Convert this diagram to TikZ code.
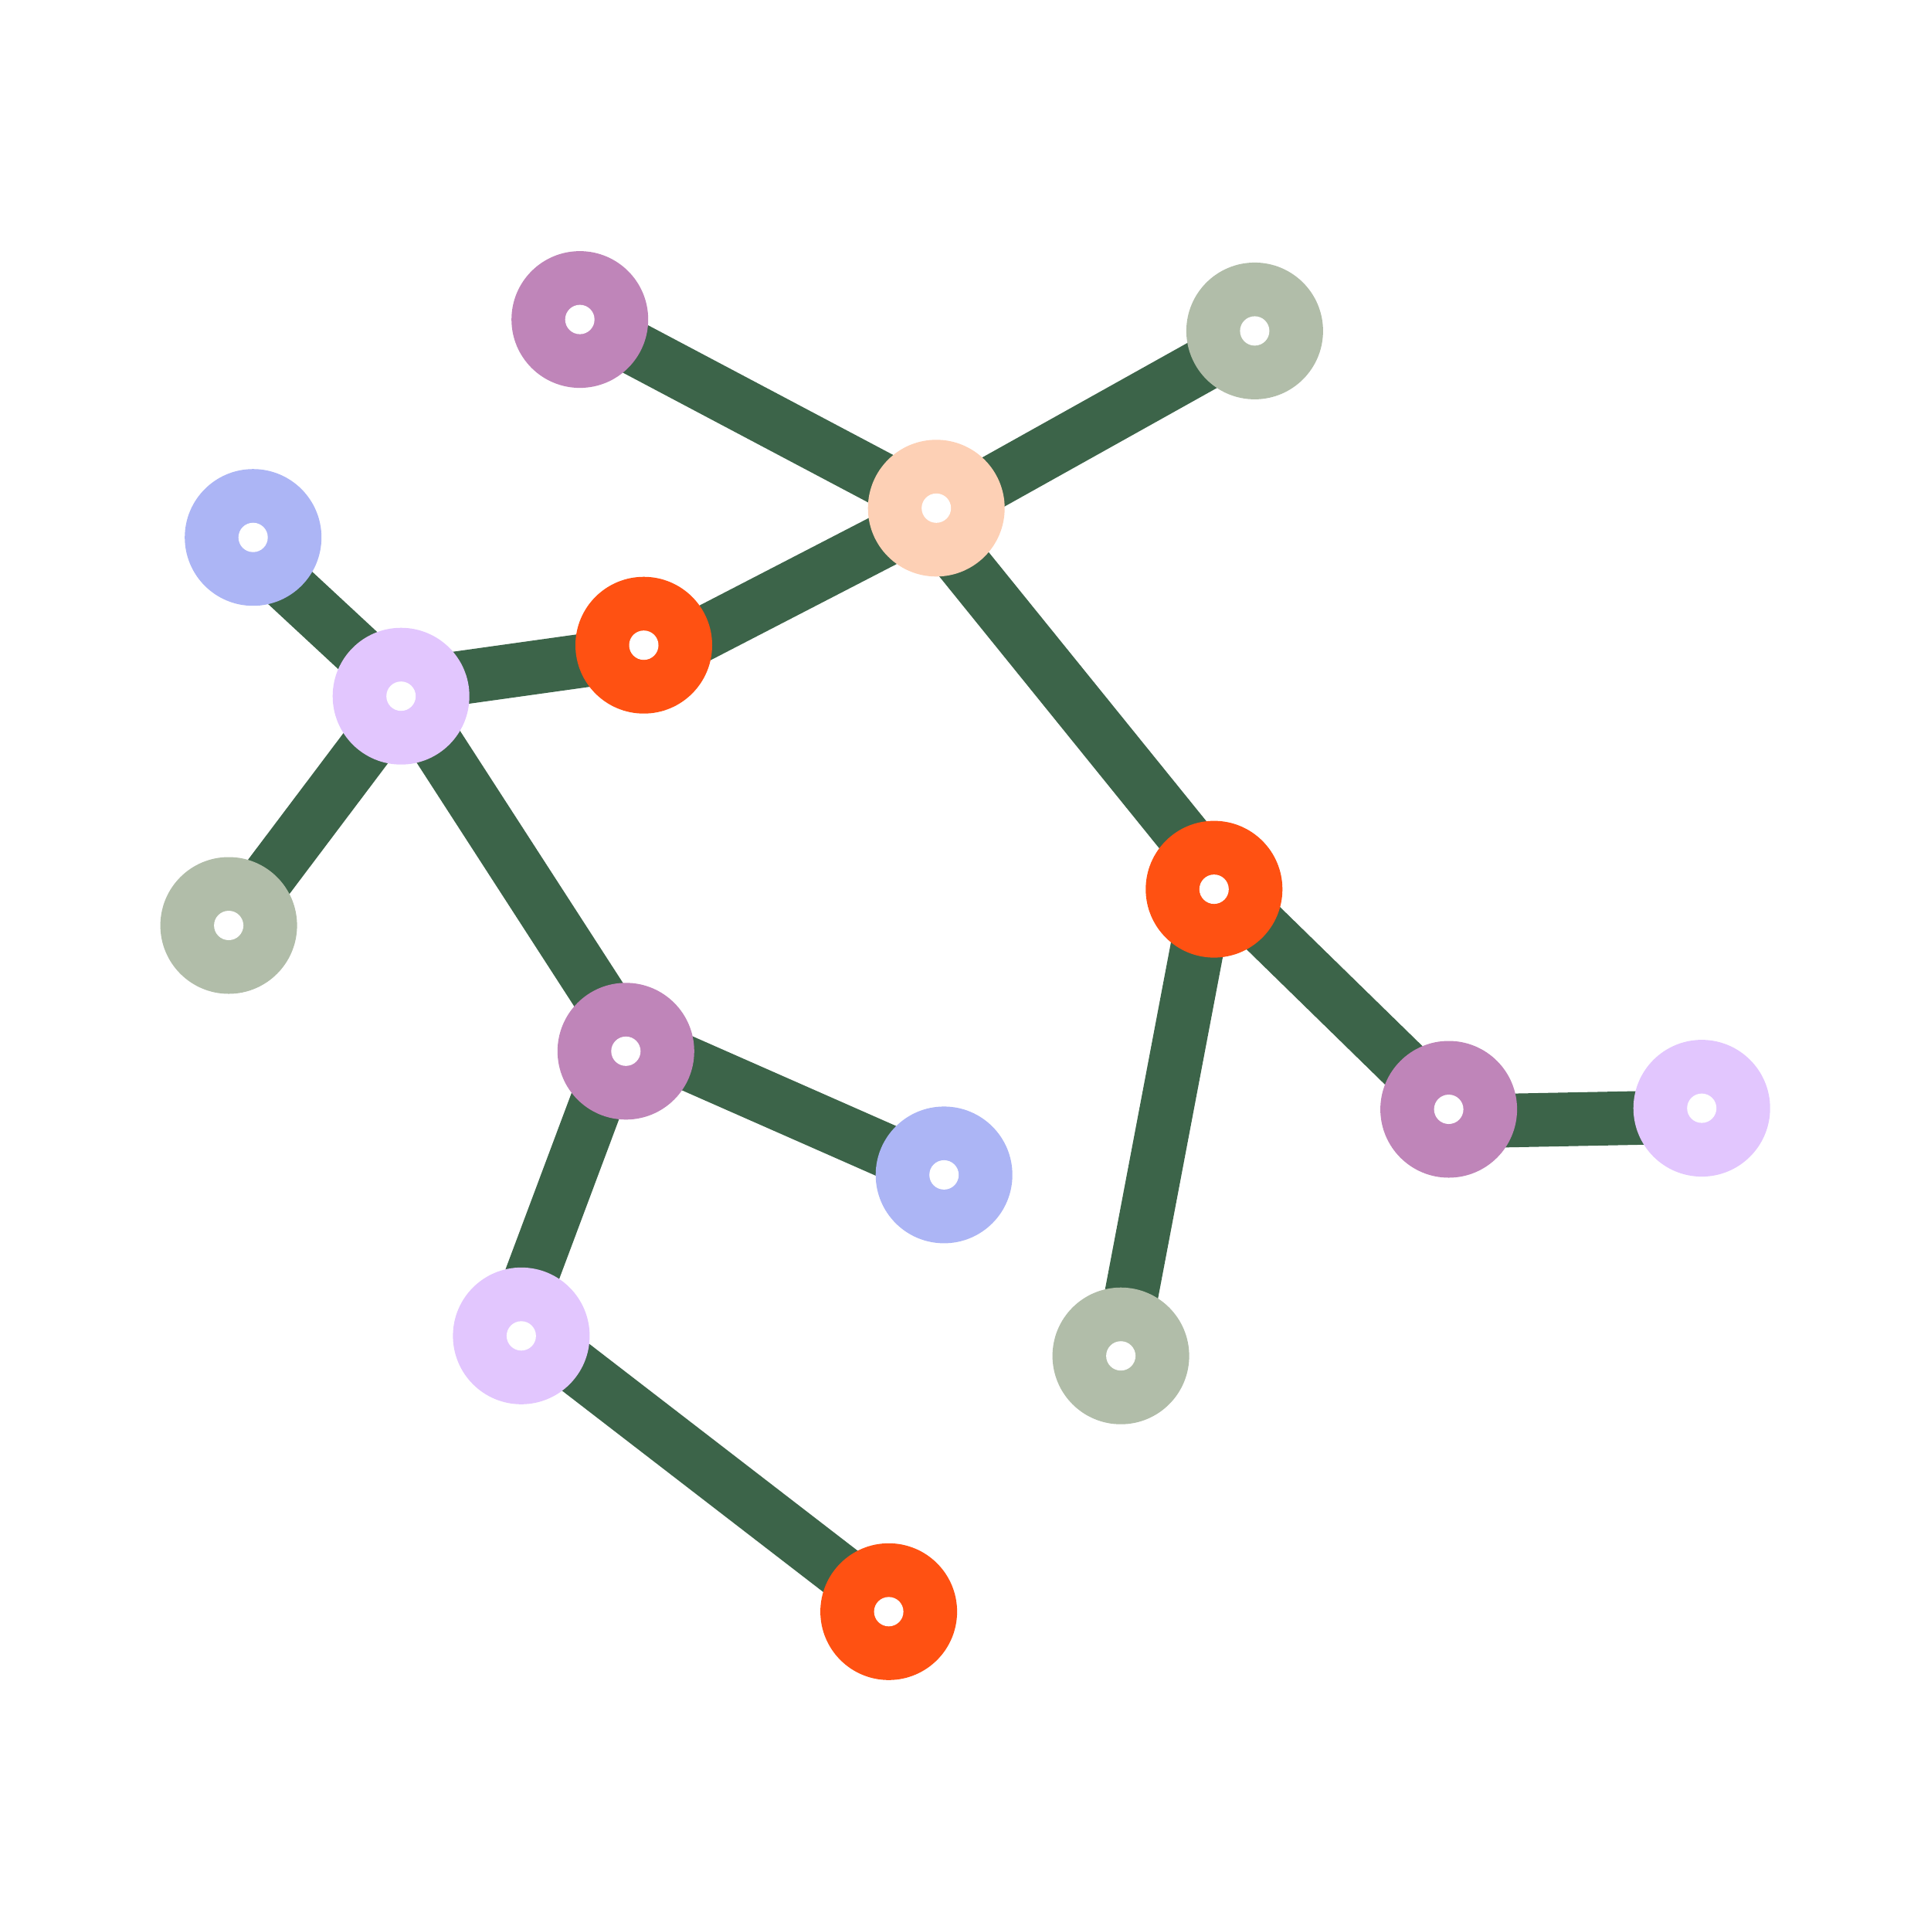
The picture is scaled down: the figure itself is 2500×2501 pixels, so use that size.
\documentclass[tikz,border=0pt]{standalone}
\definecolor{edgegreen}{HTML}{3C6449}
\definecolor{mauve}{HTML}{BF85B9}
\definecolor{sage}{HTML}{B1BDA9}
\definecolor{peach}{HTML}{FDD0B5}
\definecolor{bluec}{HTML}{ACB5F5}
\definecolor{orangec}{HTML}{FF5112}
\definecolor{lavender}{HTML}{E2C6FE}
\pgfdeclarelayer{bg}
\pgfsetlayers{bg,main}
\tikzset{
  dot/.style={circle, minimum size=177pt, inner sep=0pt, draw=none, fill=#1,
    path picture={\fill[white] (path picture bounding box.center) circle (19pt);}},
  link/.style={edgegreen, line width=69.5pt}
}
\begin{document}
\begin{tikzpicture}[x=1pt,y=-1pt]
\useasboundingbox (0,0) rectangle (2500,2501);
\node[dot=mauve] (A) at (750.7,413.6) {};
\node[dot=sage] (B) at (1624.4,428.4) {};
\node[dot=peach] (C) at (1212.2,657.8) {};
\node[dot=bluec] (D) at (327.7,695.7) {};
\node[dot=orangec] (E) at (833.5,835.2) {};
\node[dot=lavender] (F) at (519.2,901.2) {};
\node[dot=sage] (G) at (296.1,1198) {};
\node[dot=orangec] (H) at (1571.8,1151.1) {};
\node[dot=mauve] (I) at (810.3,1360.8) {};
\node[dot=bluec] (J) at (1222.2,1520.9) {};
\node[dot=lavender] (K) at (674.9,1729.3) {};
\node[dot=sage] (L) at (1451.1,1755.2) {};
\node[dot=mauve] (M) at (1875.6,1436) {};
\node[dot=lavender] (N) at (2203.2,1434.6) {};
\node[dot=orangec] (O) at (1150.6,2086.3) {};
\begin{pgfonlayer}{bg}
\draw[link] (A.center) -- (C.center);
\draw[link] ([shift={(0,6.7)}]B.center) -- ([shift={(0,7.4)}]C.center);
\draw[link] ([shift={(0,6.7)}]C.center) -- ([shift={(0,25)}]E.center);
\draw[link] ([shift={(-23,0)}]C.center) -- ([shift={(16.6,0)}]H.center);
\draw[link] ([shift={(0,9)}]E.center) -- ([shift={(0,-13)}]F.center);
\draw[link] ([shift={(0,20.8)}]D.center) -- ([shift={(0,-7)}]F.center);
\draw[link] ([shift={(5,0)}]F.center) -- ([shift={(4.4,0)}]G.center);
\draw[link] ([shift={(6,0)}]F.center) -- ([shift={(12,0)}]I.center);
\draw[link] ([shift={(0,-19.4)}]I.center) -- ([shift={(0,2)}]J.center);
\draw[link] ([shift={(-13,0)}]I.center) -- ([shift={(-15.6,0)}]K.center);
\draw[link] ([shift={(0,-13.6)}]K.center) -- ([shift={(0,-4)}]O.center);
\draw[link] ([shift={(-7.4,0)}]H.center) -- ([shift={(-1.4,0)}]L.center);
\draw[link] ([shift={(0,-11.8)}]H.center) -- (M.center);
\draw[link] ([shift={(0,16)}]M.center) -- ([shift={(0,11)}]N.center);
\end{pgfonlayer}
\end{tikzpicture}
\end{document}
